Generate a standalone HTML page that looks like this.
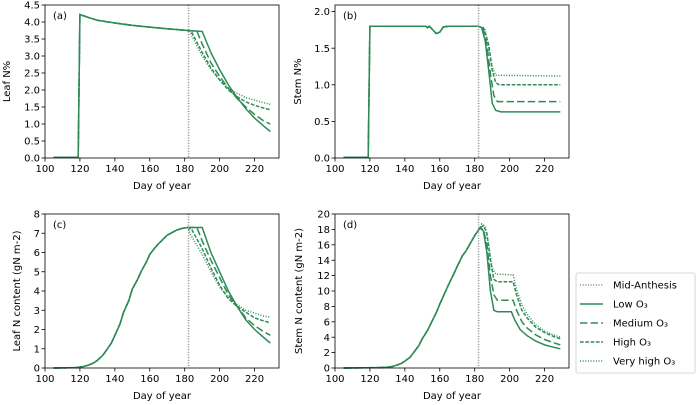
<!DOCTYPE html>
<html><head><meta charset="utf-8"><style>
body{margin:0;background:#fff;}
svg{display:block;font-family:"DejaVu Sans","Liberation Sans",sans-serif;}
</style></head><body>
<svg id="fig" width="696" height="405" viewBox="0 0 696 405" xmlns="http://www.w3.org/2000/svg"></svg>
<script>
// ---- data ----
const xTicks=[100,120,140,160,180,200,220];
const midAnthesisDay=182.2;
// panel a: Leaf N%
const aCommonDays=[105,119,120,125,130,140,150,160,170,182];
const aCommonVals=[0.02,0.02,4.22,4.13,4.05,3.97,3.9,3.85,3.8,3.75];
const aLowDays=[182,190,195,200,205,210,215,220,225,229];
const aLowVals=[3.75,3.72,3.1,2.6,2.15,1.78,1.45,1.17,0.95,0.78];
const aMedDays=[182,187,190,195,200,205,210,215,220,225,229];
const aMedVals=[3.75,3.73,3.35,2.8,2.4,2.05,1.75,1.5,1.28,1.1,1.0];
const aHighDays=[182,184,190,195,200,205,210,215,220,225,229];
const aHighVals=[3.75,3.7,3.1,2.65,2.3,2.0,1.8,1.65,1.55,1.47,1.42];
const aVHDays=[182,183,190,195,200,205,210,215,220,225,229];
const aVHVals=[3.75,3.7,3.0,2.6,2.3,2.05,1.9,1.78,1.7,1.63,1.58];
const aYTicks=[0,0.5,1,1.5,2,2.5,3,3.5,4,4.5];
// panel b: Stem N%
const bCommonDays=[105,119,120,150,152,153,154,156,158,160,162,165,182];
const bCommonVals=[0.01,0.01,1.8,1.8,1.8,1.78,1.8,1.75,1.7,1.72,1.79,1.8,1.8];
const bLowDays=[182,184,186,188,190,192,195,229];
const bLowVals=[1.8,1.78,1.6,1.2,0.75,0.65,0.63,0.63];
const bMedDays=[182,185,187,189,191,193,229];
const bMedVals=[1.8,1.75,1.55,1.15,0.85,0.77,0.77];
const bHighDays=[182,185,188,190,192,194,229];
const bHighVals=[1.8,1.78,1.55,1.2,1.03,1.0,1.0];
const bVHDays=[182,186,188,190,192,229];
const bVHVals=[1.8,1.75,1.5,1.25,1.13,1.12];
const bYTicks=[0,0.5,1,1.5,2];
// panel c: Leaf N content
const cCommonDays=[105,118,122,125,128,130,133,135,138,140,143,145,148,150,153,155,158,160,163,165,168,170,173,175,178,180,182];
const cCommonVals=[0,0.02,0.08,0.15,0.27,0.4,0.65,0.9,1.3,1.7,2.3,2.9,3.5,4.1,4.6,5.0,5.5,5.9,6.25,6.45,6.72,6.9,7.05,7.15,7.24,7.28,7.3];
const cLowDays=[182,190,195,200,205,210,215,220,225,229];
const cLowVals=[7.3,7.3,6.0,5.0,4.0,3.2,2.5,2.0,1.6,1.3];
const cMedDays=[182,187,190,195,200,205,210,215,220,225,229];
const cMedVals=[7.3,7.3,6.6,5.6,4.7,3.8,3.2,2.6,2.2,1.9,1.7];
const cHighDays=[182,184,190,195,200,205,210,215,220,225,229];
const cHighVals=[7.3,7.2,6.2,5.2,4.3,3.6,3.2,2.9,2.6,2.45,2.35];
const cVHDays=[182,183,190,195,200,205,210,215,220,225,229];
const cVHVals=[7.3,7.0,5.9,5.0,4.2,3.65,3.3,3.0,2.85,2.7,2.65];
const cYTicks=[0,1,2,3,4,5,6,7,8];
// panel d: Stem N content
const dCommonDays=[105,125,130,133,135,138,140,143,145,148,150,153,155,158,160,163,165,168,170,173,175,178,180,183];
const dCommonVals=[0,0.05,0.1,0.2,0.35,0.6,0.9,1.4,2.0,2.9,3.8,4.9,5.8,7.2,8.3,9.8,10.8,12.2,13.2,14.6,15.2,16.4,17.2,18.2];
const dLowDays=[183,185,187,189,191,193,201,203,206,210,215,220,225,229];
const dLowVals=[18.2,17.8,15,10,7.5,7.3,7.3,6.2,5.0,4.2,3.5,3.0,2.7,2.5];
const dMedDays=[183,185,187,189,191,193,202,204,207,210,215,220,225,229];
const dMedVals=[18.2,18.0,16,12,9.5,8.8,8.8,7.5,6.0,5.2,4.3,3.7,3.3,3.0];
const dHighDays=[183,185,187,189,191,193,202,204,207,210,215,220,225,229];
const dHighVals=[18.2,18.5,17.5,14,11.5,11.2,11.2,9.5,7.5,6.5,5.3,4.6,4.1,3.8];
const dVHDays=[183,184,186,188,190,192,202,204,207,210,215,220,225,229];
const dVHVals=[18.2,18.7,18.4,16,13,12.2,12.1,10.2,8.2,7.0,5.6,4.8,4.3,4.0];
const dYTicks=[0,2,4,6,8,10,12,14,16,18,20];

const NS="http://www.w3.org/2000/svg";
const svg=document.getElementById('fig');
const GREEN="#2e8b57";
const dashes={low:"",med:"7.4,3.2",high:"3.7,1.6",vh:"1,1.65"};
function mk(tag,attrs,parent){const e=document.createElementNS(NS,tag);for(const k in attrs)e.setAttribute(k,attrs[k]);(parent||svg).appendChild(e);return e;}
function fmt(v,dec){return v.toFixed(dec);}

function panel(o){
  const g=mk('g',{});
  
  
  const X=d=>o.x0+(d-100)/(234-100)*(o.x1-o.x0);
  const Y=v=>o.y1-(v-0)/(o.ymax)*(o.y1-o.y0);
  const ser=[['low',o.low],['med',o.med],['high',o.high],['vh',o.vh]];
  ser.forEach(([k,s])=>{
    const days=o.cd.concat(s[0].slice(1)), vals=o.cv.concat(s[1].slice(1));
    const pts=days.map((d,i)=>X(d).toFixed(1)+','+Y(vals[i]).toFixed(1)).join(' ');
    const p=mk('polyline',{points:pts,fill:'none',stroke:GREEN,'stroke-width':1.5,'stroke-dasharray':dashes[k]},g);
    
    
  });
  const vl=mk('line',{x1:X(midAnthesisDay),x2:X(midAnthesisDay),y1:o.y0,y2:o.y1,stroke:'#888','stroke-width':1.5,'stroke-dasharray':'1,1.65'},g);
  
  
  const fr=mk('rect',{x:o.x0,y:o.y0,width:o.x1-o.x0,height:o.y1-o.y0,fill:'none',stroke:'#000','stroke-width':0.8},g);
  
  
  xTicks.forEach(t=>{
    const x=X(t);
    mk('line',{x1:x,x2:x,y1:o.y1,y2:o.y1+3.5,stroke:'#000','stroke-width':0.8},g);
    const tx=mk('text',{x:x,y:o.y1+14,'font-size':10,'text-anchor':'middle',fill:'#000'},g);
    tx.textContent=t;
    
    
  });
  o.yt.forEach(t=>{
    const y=Y(t);
    mk('line',{x1:o.x0-3.5,x2:o.x0,y1:y,y2:y,stroke:'#000','stroke-width':0.8},g);
    const tx=mk('text',{x:o.x0-5,y:y+3.6,'font-size':10,'text-anchor':'end',fill:'#000'},g);
    tx.textContent=fmt(t,o.dec);
    
    
  });
  const xl=mk('text',{x:(o.x0+o.x1)/2,y:o.y1+31,'font-size':10,'text-anchor':'middle',fill:'#000'},g);
  xl.textContent='Day of year';
  
  
  const yl=mk('text',{x:0,y:0,'font-size':10,'text-anchor':'middle',fill:'#000',transform:`translate(${o.ylx},${(o.y0+o.y1)/2}) rotate(-90)`},g);
  yl.textContent=o.ylab;
  
  
  const pl=mk('text',{x:o.x0+8,y:o.y0+14,'font-size':10,fill:'#000'},g);
  pl.textContent='('+o.id+')';
  
  
}
panel({id:'a',x0:45,x1:279,y0:5,y1:158,ymax:4.5,yt:aYTicks,dec:1,ylab:'Leaf N%',ylx:10,cd:aCommonDays,cv:aCommonVals,low:[aLowDays,aLowVals],med:[aMedDays,aMedVals],high:[aHighDays,aHighVals],vh:[aVHDays,aVHVals]});
panel({id:'b',x0:335,x1:569,y0:5,y1:158,ymax:2.09,yt:bYTicks,dec:1,ylab:'Stem N%',ylx:301,cd:bCommonDays,cv:bCommonVals,low:[bLowDays,bLowVals],med:[bMedDays,bMedVals],high:[bHighDays,bHighVals],vh:[bVHDays,bVHVals]});
panel({id:'c',x0:45,x1:279,y0:214,y1:368,ymax:8,yt:cYTicks,dec:0,ylab:'Leaf N content (gN m-2)',ylx:20,cd:cCommonDays,cv:cCommonVals,low:[cLowDays,cLowVals],med:[cMedDays,cMedVals],high:[cHighDays,cHighVals],vh:[cVHDays,cVHVals]});
panel({id:'d',x0:335,x1:569,y0:214,y1:368,ymax:20,yt:dYTicks,dec:0,ylab:'Stem N content (gN m-2)',ylx:302,cd:dCommonDays,cv:dCommonVals,low:[dLowDays,dLowVals],med:[dMedDays,dMedVals],high:[dHighDays,dHighVals],vh:[dVHDays,dVHVals]});

// legend
const leg=mk('g',{});


mk('rect',{x:576,y:273,width:119,height:100,rx:2,fill:'#fff',stroke:'#ccc','stroke-width':0.8},leg);
const legLabels=['Mid-Anthesis','Low O₃','Medium O₃','High O₃','Very high O₃'];
const legDash=['1,1.65','',dashes.med,dashes.high,dashes.vh];
legLabels.forEach((t,i)=>{
  const y=285+i*19;
  const ln=mk('line',{x1:580,x2:603,y1:y,y2:y,stroke:i===0?'#888':GREEN,'stroke-width':1.5,'stroke-dasharray':legDash[i]},leg);
  
  
  const tx=mk('text',{x:613,y:y+3.6,'font-size':10,fill:'#000'},leg);
  tx.textContent=t;
  
  
});
</script>
</body></html>
